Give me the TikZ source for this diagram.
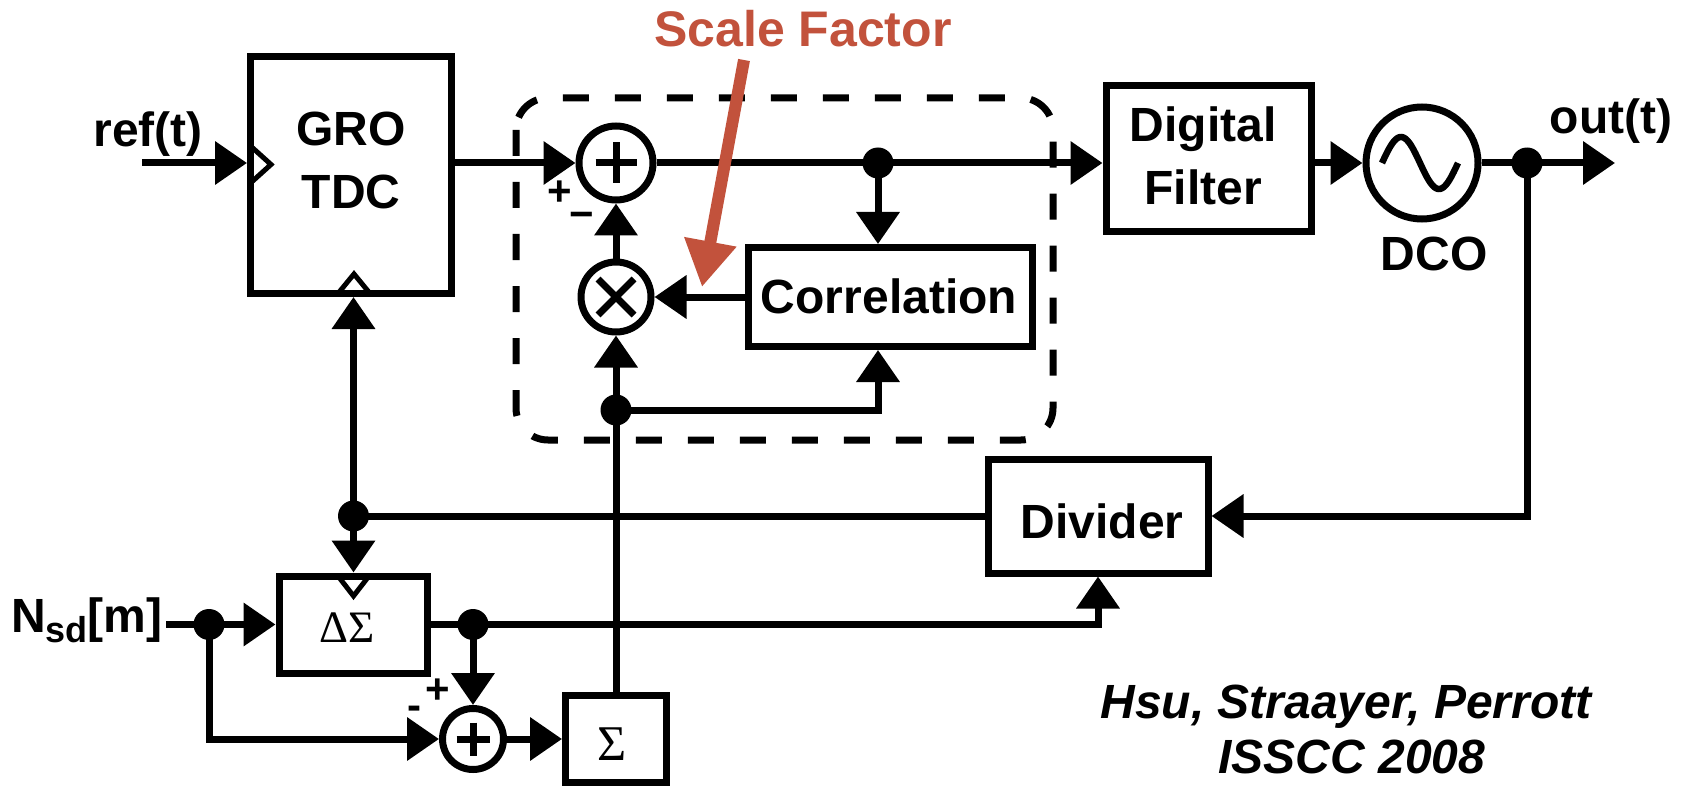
\documentclass[tikz,border=0pt]{standalone}
\usepackage{fontspec}
\setmainfont{Liberation Sans}
\newfontfamily\greekserif{Liberation Serif}
\usetikzlibrary{arrows.meta}
\definecolor{scalered}{RGB}{194,82,60}

\begin{document}
\begin{tikzpicture}[x=1pt, y=-1pt, line width=7pt,
  blk/.style={draw, rectangle, inner sep=0pt, line width=7pt},
  sumnode/.style={draw, circle, inner sep=0pt, line width=7pt},
  dot/.style={circle, fill, inner sep=0pt, outer sep=0pt, minimum size=31pt},
  arr/.style={-{Triangle[length=32pt,width=42pt]}},
  txt/.style={font=\fontsize{48}{58}\selectfont\bfseries, inner sep=0pt, anchor=base},
  cite/.style={font=\fontsize{48}{58}\selectfont\bfseries\itshape, inner sep=0pt, anchor=base},
  sgn/.style={font=\fontsize{42}{48}\selectfont\bfseries, inner sep=0pt},
  greek/.style={inner sep=0pt, anchor=base},
  clk/.style={line width=5pt},
]
\fill[white] (0,0) rectangle (1685,786);
\useasboundingbox (0,0) rectangle (1685,786);

% ---------- blocks ----------
\node[blk, minimum width=201pt, minimum height=237pt] (gro)  at (351,175)   {};
\node[blk, minimum width=205pt, minimum height=146pt] (df)   at (1208.5,159) {};
\node[blk, minimum width=284pt, minimum height=99pt]  (corr) at (890,297)   {};
\node[blk, minimum width=220pt, minimum height=114pt] (div)  at (1098,516)  {};
\node[blk, minimum width=148pt, minimum height=97pt]  (ds)   at (353,624.5) {};
\node[blk, minimum width=101pt, minimum height=87pt]  (sig)  at (616,738.5) {};

% ---------- summers, multiplier, oscillator ----------
\node[sumnode, minimum size=74pt]  (add1) at (616,163)  {};
\node[sumnode, minimum size=70pt]  (mul)  at (616,297)  {};
\node[sumnode, minimum size=112pt] (dco)  at (1422,163) {};
\node[sumnode, minimum size=61pt]  (add2) at (473,739)  {};

\draw (add1.center) ++(-20.5,0) -- ++(41,0);
\draw (add1.center) ++(0,-20.5) -- ++(0,41);
\draw (mul.center) ++(-18,-18) -- ++(36,36);
\draw (mul.center) ++(-18,18) -- ++(36,-36);
\draw (add2.center) ++(-16.5,0) -- ++(33,0);
\draw (add2.center) ++(0,-16.5) -- ++(0,33);
\draw[line width=6.5pt] plot[domain=0:360, samples=72] ({1382+0.21111*\x},{163-26*sin(\x)});

% ---------- clock inputs ----------
\draw[clk] (250.5,146) -- (271,164.5) -- (250.5,183);
\draw[clk] (338,293.5) -- (354,274) -- (370,293.5);
\draw[clk] (338,576) -- (353.5,596) -- (369,576);

% ---------- junction dots and free ends ----------
\node[dot] (j1) at (878,163)     {};
\node[dot] (j2) at (1527,163)    {};
\node[dot] (j3) at (616,410)     {};
\node[dot] (j4) at (353.5,516)   {};
\node[dot] (j5) at (209,624.5)   {};
\node[dot] (j6) at (473,624.5)   {};
\coordinate (refst)  at (142,163);
\coordinate (outend) at (1615,163);
\coordinate (nsdend) at (166,624.5);

% ---------- dashed calibration block ----------
\draw[dash pattern=on 26pt off 26pt, rounded corners=32pt] (516,98) rectangle (1053,440);

% ---------- forward path ----------
\draw[arr] (refst) -- (refst -| gro.west);
\draw[arr] (add1.west -| gro.east) -- (add1.west);
\draw (add1.east) -- (j1.center);
\draw[arr] (j1.center) -- (j1.center -| df.west);
\draw[arr] (df.east |- dco.west) -- (dco.west);
\draw (dco.east) -- (j2.center);
\draw[arr] (j2.center) -- (outend);

% ---------- correlation loop ----------
\draw[arr] (j1.center) -- (j1.center |- corr.north);
\draw[arr] (corr.west) -- (mul.east);
\draw[arr] (mul.north) -- (add1.south);
\draw[arr] (sig.north) -- (mul.south);
\draw[arr] (j3.center) -| (j1.center |- corr.south);

% ---------- feedback and sigma-delta ----------
\draw[arr] (j2.center) |- (div.east);
\draw (div.west) -- (j4.center);
\draw[arr] (j4.center) -- (j4.center |- gro.south);
\draw[arr] (j4.center) -- (j4.center |- ds.north);
\draw (nsdend) -- (j5.center);
\draw[arr] (j5.center) -- (j5.center -| ds.west);
\draw[arr] (j5.center) |- (add2.west);
\draw (ds.east |- j6.center) -- (j6.center);
\draw[arr] (j6.center) -| (div.south);
\draw[arr] (j6.center) -- (add2.north);
\draw[arr] (add2.east) -- (add2.east -| sig.west);

% ---------- labels ----------
\node[txt] (tref)  at (148,147)  {ref(t)};
\node[txt] (tgro1) at (351,146)  {GRO};
\node[txt] (tgro2) at (351,209)  {TDC};
\node[txt] (tdf1)  at (1203,142) {Digital};
\node[txt] (tdf2)  at (1203,205) {Filter};
\node[txt] (tcorr) at (889,313)  {Correlation};
\node[txt] (tdiv)  at (1102,538) {Divider};
\node[txt] (tdco)  at (1434,270) {DCO};
\node[txt] (tout)  at (1611,134) {out(t)};
\node[txt, anchor=base east] (tnsd) at (166,632)
  {N\raisebox{-10pt}{\fontsize{36}{36}\selectfont sd}[m]};
\node[greek, font=\greekserif\fontsize{45}{50}\selectfont] (tds)  at (347,642) {ΔΣ};
\node[greek, font=\greekserif\fontsize{50}{56}\selectfont] (tsig) at (612,760) {Σ};

\node[sgn] (p1) at (560,193)   {+};
\node[sgn] (m1) at (582,220)   {−};
\node[sgn] (p2) at (437.5,691) {+};
\node[sgn] (m2) at (414.5,713) {-};

\node[cite] (cite1) at (1346,718) {Hsu, Straayer, Perrott};
\node[cite] (cite2) at (1352,773) {ISSCC 2008};

% ---------- scale factor annotation ----------
\node[txt, text=scalered, font=\fontsize{50}{60}\selectfont\bfseries] (sf) at (803,47) {Scale Factor};
\coordinate (sfstart) at (744,60);
\coordinate (sftip)   at (702,287);
\draw[scalered, line width=12pt, -{Triangle[length=46pt,width=50pt]}] (sfstart) -- (sftip);
\end{tikzpicture}
\end{document}
